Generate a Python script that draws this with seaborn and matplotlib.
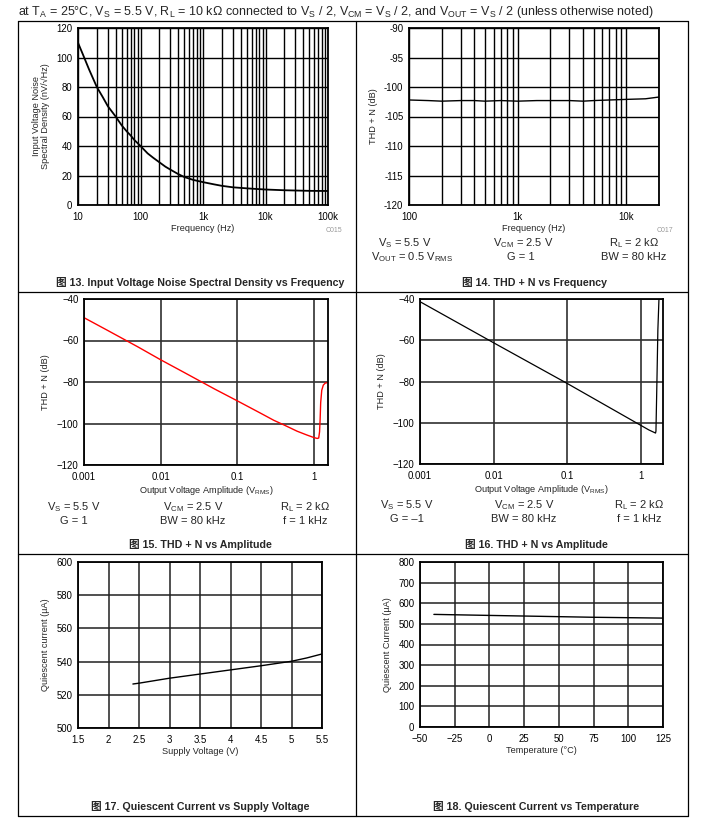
import matplotlib
matplotlib.use("Agg")
from matplotlib import pyplot as plt
from matplotlib.lines import Line2D
from matplotlib.ticker import NullFormatter, NullLocator, FuncFormatter, MultipleLocator
import seaborn as sns

# 图 13 - noise density
noise_freq = [10, 12, 15, 20, 25, 30, 40, 50, 60, 70, 80, 100, 130, 160, 200, 250, 300, 400, 500,
              700, 1000, 1500, 2000, 3000, 5000, 7000, 10000, 20000, 50000, 100000]
noise_density = [110, 102, 92, 80, 73, 67, 60, 54, 50, 47, 44, 40, 35, 32, 29, 26, 24, 21, 19,
                 17, 15.5, 14, 13, 12, 11.3, 10.9, 10.5, 10, 9.6, 9.5]

# 图 14 - THD+N vs frequency
thd_freq = [100, 150, 200, 300, 400, 500, 700, 1000, 1500, 2000, 3000, 4000, 5000, 7000,
            10000, 15000, 20000]
thd_freq_db = [-102.2, -102.3, -102.4, -102.3, -102.3, -102.4, -102.3, -102.4, -102.3, -102.3,
               -102.3, -102.4, -102.3, -102.2, -102.1, -102.0, -101.7]

# 图 15 - THD+N vs amplitude, G = 1
amp_g1 = [0.001, 0.002, 0.005, 0.01, 0.02, 0.05, 0.1, 0.2, 0.3, 0.4, 0.5, 0.6, 0.8, 1.0, 1.1,
          1.15, 1.18, 1.2, 1.22, 1.26, 1.32, 1.4, 1.5]
thd_g1 = [-49, -55, -63, -69.3, -75.3, -83.3, -89.1, -95, -98.5, -100.6, -102.3, -103.7, -105.5,
          -106.8, -107.2, -107, -104, -98, -90, -84, -81.5, -80.5, -80.3]

# 图 16 - THD+N vs amplitude, G = -1
amp_gm1 = [0.001, 0.01, 0.1, 1.0, 1.3, 1.6, 1.62, 1.67, 1.72, 1.78]
thd_gm1 = [-41.3, -61.2, -80.9, -101.2, -103.5, -105, -104, -80, -55, -40]

# 图 17 - quiescent current vs supply
supply_v = [2.4, 2.5, 3.0, 3.5, 4.0, 4.5, 5.0, 5.25, 5.5]
iq_supply = [526.5, 527, 530, 532.5, 535, 537.5, 540.2, 542.2, 544.6]

# 图 18 - quiescent current vs temperature
temp_c = [-40, 0, 25, 50, 75, 100, 125]
iq_temp = [546, 541, 538, 535, 532, 530, 528]

sns.set_style("white")
plt.rcParams['font.family'] = ['Liberation Sans', 'Noto Sans CJK SC', 'DejaVu Sans']
plt.rcParams['mathtext.fontset'] = 'custom'
plt.rcParams['mathtext.rm'] = 'Liberation Sans'
plt.rcParams['mathtext.it'] = 'Liberation Sans:italic'
plt.rcParams['mathtext.bf'] = 'Liberation Sans:bold'
plt.rcParams['mathtext.default'] = 'rm'

W, H = 721, 824
fig = plt.figure(figsize=(W / 100, H / 100), dpi=100)
LBL = 6.6
CAP = 7.7


def add_ax(x0, y0, x1, y1):
    ax = fig.add_axes([x0 / W, 1 - y1 / H, (x1 - x0) / W, (y1 - y0) / H])
    for s in ax.spines.values():
        s.set_color('black')
        s.set_linewidth(1.3)
    ax.tick_params(which='both', length=0, labelsize=6.9, colors='black')
    ax.tick_params(axis='x', which='both', pad=5)
    ax.tick_params(axis='y', which='both', pad=4)
    return ax


def ftext(x, y, s, **kw):
    fig.text(x / W, 1 - y / H, s, **kw)


# page frame
for y in [21, 292, 554, 816]:
    fig.add_artist(Line2D([18 / W, 688 / W], [1 - y / H, 1 - y / H], color='black', lw=0.9))
for x in [18, 356, 688]:
    fig.add_artist(Line2D([x / W, x / W], [1 - 21 / H, 1 - 816 / H], color='black', lw=0.9))

ftext(18, 12, "at T$_{A}$ = 25°C, V$_{S}$ = 5.5 V, R$_{L}$ = 10 kΩ connected to V$_{S}$ / 2, "
      "V$_{CM}$ = V$_{S}$ / 2, and V$_{OUT}$ = V$_{S}$ / 2 (unless otherwise noted)",
      fontsize=9.0, va='center', ha='left')

# 图 13
ax1 = add_ax(78, 28, 328, 205)
sns.lineplot(x=noise_freq, y=noise_density, ax=ax1, color='black', lw=1.3, sort=False, estimator=None)
ax1.set_xscale('log')
ax1.set_xlim(10, 100000)
ax1.set_ylim(0, 120)
ax1.yaxis.set_major_locator(MultipleLocator(20))
ax1.set_xticks([10, 100, 1000, 10000, 100000])
ax1.set_xticklabels(['10', '100', '1k', '10k', '100k'])
ax1.xaxis.set_minor_formatter(NullFormatter())
ax1.grid(which='both', color='black', lw=1.0)
ax1.set_xlabel("Frequency (Hz)", fontsize=LBL, labelpad=1.5)
ax1.set_ylabel("Input Voltage Noise\nSpectral Density (nV/√Hz)", fontsize=LBL, labelpad=4.5,
               linespacing=1.05)
ftext(342, 231, "C015", fontsize=5, color='#9a9a9a', ha='right', va='center')
ftext(200, 282, "图 13. Input Voltage Noise Spectral Density vs Frequency", fontsize=CAP,
      fontweight='bold', ha='center', va='center')

# 图 14
ax2 = add_ax(409, 28, 659, 205)
sns.lineplot(x=thd_freq, y=thd_freq_db, ax=ax2, color='black', lw=1.0, sort=False, estimator=None)
ax2.set_xscale('log')
ax2.set_xlim(100, 20000)
ax2.set_ylim(-120, -90)
ax2.yaxis.set_major_locator(MultipleLocator(5))
ax2.yaxis.set_major_formatter(FuncFormatter(lambda v, p: f"{v:.0f}"))
ax2.set_xticks([100, 1000, 10000])
ax2.set_xticklabels(['100', '1k', '10k'])
ax2.xaxis.set_minor_formatter(NullFormatter())
ax2.grid(which='both', color='black', lw=1.0)
ax2.set_xlabel("Frequency (Hz)", fontsize=LBL, labelpad=1.5)
ax2.set_ylabel("THD + N (dB)", fontsize=LBL, labelpad=4.5)
ftext(673, 231, "C017", fontsize=5, color='#9a9a9a', ha='right', va='center')
for x, y, s in [(405, 243, "V$_{S}$ = 5.5 V"), (523, 243, "V$_{CM}$ = 2.5 V"),
                (634, 243, "R$_{L}$ = 2 kΩ"), (412, 257, "V$_{OUT}$ = 0.5 V$_{RMS}$"),
                (521, 257, "G = 1"), (634, 257, "BW = 80 kHz")]:
    ftext(x, y, s, fontsize=8, ha='center', va='center')
ftext(535, 282, "图 14. THD + N vs Frequency", fontsize=CAP, fontweight='bold',
      ha='center', va='center')

# 图 15
ax3 = add_ax(84, 299, 328, 465)
sns.lineplot(x=amp_g1, y=thd_g1, ax=ax3, color='red', lw=1.0, sort=False, estimator=None)
ax3.set_xscale('log')
ax3.set_xlim(0.001, 1.52)
ax3.set_ylim(-120, -40)
ax3.yaxis.set_major_locator(MultipleLocator(20))
ax3.set_xticks([0.001, 0.01, 0.1, 1])
ax3.set_xticklabels(['0.001', '0.01', '0.1', '1'])
ax3.xaxis.set_minor_locator(NullLocator())
ax3.grid(which='major', color='#303030', lw=1.2)
ax3.set_xlabel("Output Voltage Amplitude (V$_{RMS}$)", fontsize=LBL, labelpad=1.5)
ax3.set_ylabel("THD + N (dB)", fontsize=LBL, labelpad=4.5)
for x, y, s in [(74, 507, "V$_{S}$ = 5.5 V"), (193, 507, "V$_{CM}$ = 2.5 V"),
                (305, 507, "R$_{L}$ = 2 kΩ"), (74, 521, "G = 1"),
                (193, 521, "BW = 80 kHz"), (305, 521, "f = 1 kHz")]:
    ftext(x, y, s, fontsize=8, ha='center', va='center')
ftext(200, 545, "图 15. THD + N vs Amplitude", fontsize=CAP, fontweight='bold',
      ha='center', va='center')

# 图 16
ax4 = add_ax(420, 299, 663, 464)
sns.lineplot(x=amp_gm1, y=thd_gm1, ax=ax4, color='black', lw=0.9, sort=False, estimator=None)
ax4.set_xscale('log')
ax4.set_xlim(0.001, 2.02)
ax4.set_ylim(-120, -40)
ax4.yaxis.set_major_locator(MultipleLocator(20))
ax4.set_xticks([0.001, 0.01, 0.1, 1])
ax4.set_xticklabels(['0.001', '0.01', '0.1', '1'])
ax4.xaxis.set_minor_locator(NullLocator())
ax4.grid(which='major', color='#303030', lw=1.2)
ax4.set_xlabel("Output Voltage Amplitude (V$_{RMS}$)", fontsize=LBL, labelpad=1.5)
ax4.set_ylabel("THD + N (dB)", fontsize=LBL, labelpad=4.5)
for x, y, s in [(407, 505, "V$_{S}$ = 5.5 V"), (524, 505, "V$_{CM}$ = 2.5 V"),
                (639, 505, "R$_{L}$ = 2 kΩ"), (407, 519, "G = –1"),
                (524, 519, "BW = 80 kHz"), (639, 519, "f = 1 kHz")]:
    ftext(x, y, s, fontsize=8, ha='center', va='center')
ftext(536, 544, "图 16. THD + N vs Amplitude", fontsize=CAP, fontweight='bold',
      ha='center', va='center')

# 图 17
ax5 = add_ax(78, 562, 322, 728)
sns.lineplot(x=supply_v, y=iq_supply, ax=ax5, color='black', lw=1.0, sort=False, estimator=None)
ax5.set_xlim(1.5, 5.5)
ax5.set_ylim(500, 600)
ax5.xaxis.set_major_locator(MultipleLocator(0.5))
ax5.yaxis.set_major_locator(MultipleLocator(20))
ax5.xaxis.set_major_formatter(FuncFormatter(lambda v, p: f"{v:g}"))
ax5.grid(which='major', color='#202020', lw=1.1)
ax5.set_xlabel("Supply Voltage (V)", fontsize=LBL, labelpad=1.5)
ax5.set_ylabel("Quiescent current (µA)", fontsize=LBL, labelpad=4.5)
ftext(200, 807, "图 17. Quiescent Current vs Supply Voltage", fontsize=CAP, fontweight='bold',
      ha='center', va='center')

# 图 18
ax6 = add_ax(420, 562, 663, 727)
sns.lineplot(x=temp_c, y=iq_temp, ax=ax6, color='black', lw=1.0, sort=False, estimator=None)
ax6.set_xlim(-50, 125)
ax6.set_ylim(0, 800)
ax6.xaxis.set_major_locator(MultipleLocator(25))
ax6.yaxis.set_major_locator(MultipleLocator(100))
ax6.grid(which='major', color='#202020', lw=1.1)
ax6.set_xlabel("Temperature (°C)", fontsize=LBL, labelpad=1.5)
ax6.set_ylabel("Quiescent Current (µA)", fontsize=LBL, labelpad=4.5)
ftext(536, 807, "图 18. Quiescent Current vs Temperature", fontsize=CAP, fontweight='bold',
      ha='center', va='center')

fig.savefig("out.png", dpi=100)
